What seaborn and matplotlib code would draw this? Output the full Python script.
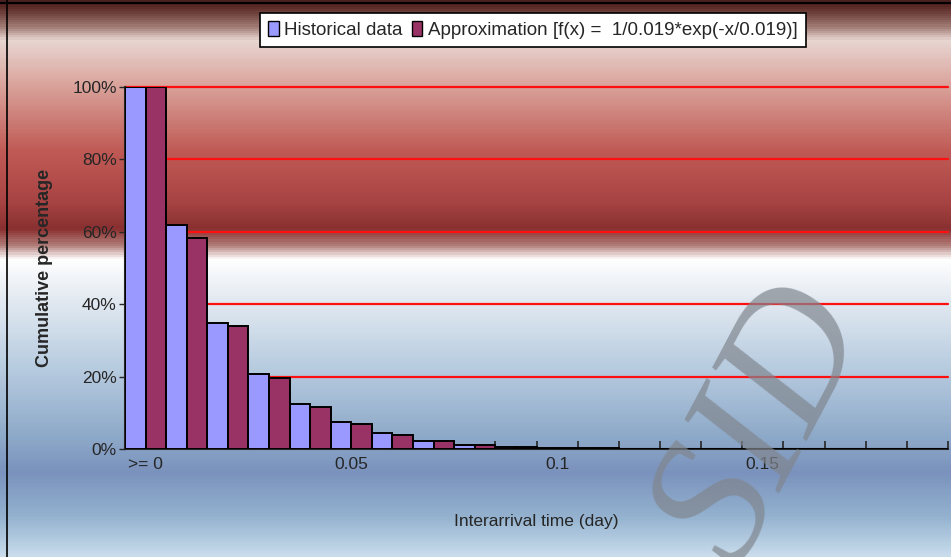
import numpy as np
import pandas as pd
import matplotlib
matplotlib.use("Agg")
import matplotlib.pyplot as plt
from matplotlib.colors import LinearSegmentedColormap
from matplotlib.patches import Patch
from matplotlib.ticker import FixedLocator, PercentFormatter
import seaborn as sns

sns.set_style("ticks")
plt.rcParams['font.family'] = ['Liberation Sans', 'DejaVu Sans']

# data
categories = list(range(20))
tick_labels = ['>= 0', '0.05', '0.1', '0.15']
historical = [100, 61.9, 34.8, 20.7, 12.4, 7.4, 4.5, 2.2, 1.2, 0.6,
              0.3, 0.2, 0.1, 0, 0, 0, 0, 0, 0, 0]
approximation = [100, 58.3, 34.0, 19.6, 11.7, 6.9, 4.0, 2.1, 1.1, 0.6,
                 0.3, 0.2, 0, 0, 0, 0, 0, 0, 0, 0]
series = ['Historical data', 'Approximation [f(x) =  1/0.019*exp(-x/0.019)]']

df = pd.DataFrame({
    'cat': categories * 2,
    'value': np.array(historical + approximation) / 100,
    'series': [series[0]] * 20 + [series[1]] * 20,
})
colors = ['#9999ff', '#993366']

fig = plt.figure(figsize=(9.51, 5.57), dpi=100)

# background gradient (top -> bottom)
bg = fig.add_axes([0, 0, 1, 1], zorder=-10)
stops = [(0.00, '#4a2020'), (0.01, '#5a2a25'), (0.045, '#a07a74'), (0.07, '#e8d6d2'),
         (0.14, '#dcaaa2'), (0.27, '#c05a55'), (0.36, '#a84444'), (0.41, '#8a3030'),
         (0.44, '#b07c78'), (0.465, '#ffffff'), (0.54, '#e2e9f1'), (0.66, '#b8cce0'),
         (0.79, '#8ca8c8'), (0.85, '#7a92bd'), (0.93, '#94b2cf'), (1.00, '#c8dcec')]
cmap = LinearSegmentedColormap.from_list('bg', stops)
bg.imshow(np.linspace(0, 1, 557).reshape(-1, 1), aspect='auto', cmap=cmap,
          extent=[0, 1, 0, 1], origin='upper')
bg.plot([0, 1], [0.995, 0.995], color='black', lw=1.5)
bg.plot([0.007, 0.007], [0, 1], color='black', lw=1.2)
bg.set_xlim(0, 1)
bg.set_ylim(0, 1)
bg.axis('off')

ax = fig.add_axes([125 / 951, 1 - 449 / 557, 823 / 951, 362 / 557])
ax.set_facecolor('none')
sns.barplot(data=df, x='cat', y='value', hue='series', palette=colors,
            saturation=1, width=1.0, edgecolor='black', linewidth=1.4, ax=ax,
            legend=False, zorder=3)

ax.set_xlim(-0.5, 19.5)
ax.set_ylim(0, 1)
ax.yaxis.set_major_locator(FixedLocator([0, 0.2, 0.4, 0.6, 0.8, 1.0]))
ax.yaxis.set_major_formatter(PercentFormatter(1.0, decimals=0))
for y in [0.2, 0.4, 0.6, 0.8, 1.0]:
    ax.axhline(y, color='#ff1010', lw=1.6, zorder=1, clip_on=False)

ax.set_xticks([0, 5, 10, 15])
ax.set_xticklabels(tick_labels)
ax.set_xticks(np.arange(-0.5, 20, 1), minor=True)
ax.tick_params(axis='x', which='major', length=0, pad=6, labelsize=12.5)
ax.tick_params(axis='x', which='minor', direction='in', length=6, width=1.2)
ax.tick_params(axis='y', length=4, width=1, labelsize=12.5, pad=2)

sns.despine(ax=ax, top=True, right=True)
ax.spines['left'].set_linewidth(1.5)
ax.spines['bottom'].set_linewidth(1.5)

ax.set_xlabel('Interarrival time (day)', fontsize=12.5, labelpad=30)
ax.set_ylabel('Cumulative percentage', fontsize=13, fontweight='bold', labelpad=14)

handles = [Patch(facecolor=c, edgecolor='black', linewidth=1) for c in colors]
leg = fig.legend(handles, series, loc='center', bbox_to_anchor=(533 / 951, 1 - 30 / 557),
                 ncol=2, frameon=True, fancybox=False, fontsize=13.5,
                 handlelength=0.55, handleheight=0.8, handletextpad=0.3,
                 columnspacing=0.5, borderpad=0.45)
leg.get_frame().set_edgecolor('black')
leg.get_frame().set_linewidth(1.2)
leg.get_frame().set_facecolor('white')
leg.get_frame().set_alpha(1)

# watermark
fig.text(765 / 951, 1 - 425 / 557, 'SID', fontsize=130, family='Liberation Serif',
         style='italic', color='#80868e', alpha=0.7, rotation=62,
         ha='center', va='center', zorder=20)

fig.savefig('out.png', dpi=100)
